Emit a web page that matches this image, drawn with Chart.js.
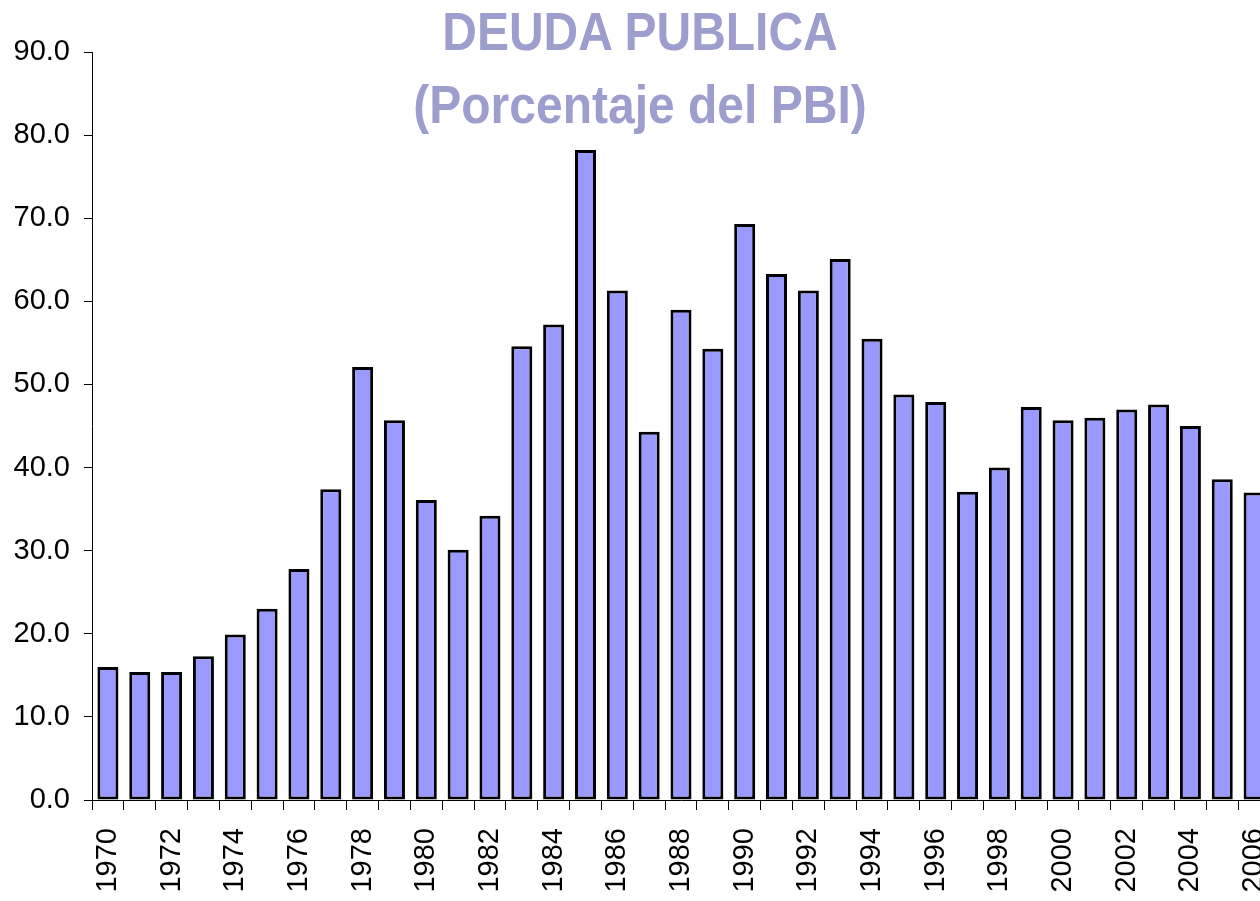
<!DOCTYPE html>
<html>
<head>
<meta charset="utf-8">
<script src="https://cdn.jsdelivr.net/npm/chart.js@4/dist/chart.umd.min.js"></script>
<style>
  html, body { margin: 0; padding: 0; background: #ffffff; overflow: hidden; width: 1260px; height: 901px; }
  #wrap { position: absolute; left: 0; top: 0; width: 1280px; height: 901px; }
  #title {
    position: absolute; left: 0; top: -5px; width: 1280px; text-align: center;
    font-family: "Liberation Sans", Arial, sans-serif; font-weight: bold; font-size: 48px;
    line-height: 65px; color: #9E9ECE; transform: scaleY(1.12); transform-origin: top center;
    pointer-events: none; z-index: 2;
  }
</style>
</head>
<body>
<div id="wrap"><canvas id="c"></canvas></div>
<div id="title">DEUDA PUBLICA<br>(Porcentaje del PBI)</div>
<script>
const years = [1970,1971,1972,1973,1974,1975,1976,1977,1978,1979,
               1980,1981,1982,1983,1984,1985,1986,1987,1988,1989,
               1990,1991,1992,1993,1994,1995,1996,1997,1998,1999,
               2000,2001,2002,2003,2004,2005,2006];
const deuda = [16.0,15.4,15.4,17.3,19.9,23.0,27.8,37.4,52.1,45.7,
               36.1,30.1,34.2,54.6,57.2,78.2,61.3,44.3,59.0,54.3,
               69.3,63.3,61.3,65.1,55.5,48.8,47.9,37.1,40.0,47.3,
               45.7,46.0,47.0,47.6,45.0,38.6,37.0];
const yTicks = [0,10,20,30,40,50,60,70,80,90];

const font = { family: '"Liberation Sans", Arial, sans-serif', size: 29 };

new Chart(document.getElementById('c'), {
  type: 'bar',
  data: {
    labels: years.map(String),
    datasets: [{
      data: deuda,
      backgroundColor: '#9999FF',
      borderColor: '#000000',
      borderWidth: 3,
      borderSkipped: false,
      barPercentage: 0.66,
      categoryPercentage: 1.0
    }]
  },
  options: {
    responsive: true,
    maintainAspectRatio: false,
    animation: false,
    layout: { padding: { top: 52, right: 10, left: 0, bottom: 0 } },
    plugins: { legend: { display: false }, tooltip: { enabled: false }, title: { display: false } },
    scales: {
      x: {
        offset: true,
        grid: { offset: true, drawOnChartArea: false, drawTicks: true, tickLength: 10, color: '#000000', lineWidth: 1 },
        border: { display: true, color: '#000000', width: 1 },
        ticks: {
          autoSkip: false, maxRotation: 90, minRotation: 90, padding: 18, color: '#000000', font: font,
          callback: function(v, i) { return (years[i] % 2 === 0) ? String(years[i]) : ''; }
        },
        afterFit: function(s) { s.height = 101; s.paddingLeft = 0; s.paddingRight = 0; }
      },
      y: {
        min: 0, max: 90,
        afterBuildTicks: function(s) { s.ticks = yTicks.map(v => ({ value: v })); },
        grid: { drawOnChartArea: false, drawTicks: true, tickLength: 8, color: '#000000', lineWidth: 1 },
        border: { display: true, color: '#000000', width: 1 },
        ticks: { padding: 14, color: '#000000', font: font, callback: v => Number(v).toFixed(1) },
        afterFit: function(s) { s.width = 92; s.paddingTop = 0; s.paddingBottom = 0; }
      }
    }
  }
});
</script>
</body>
</html>
